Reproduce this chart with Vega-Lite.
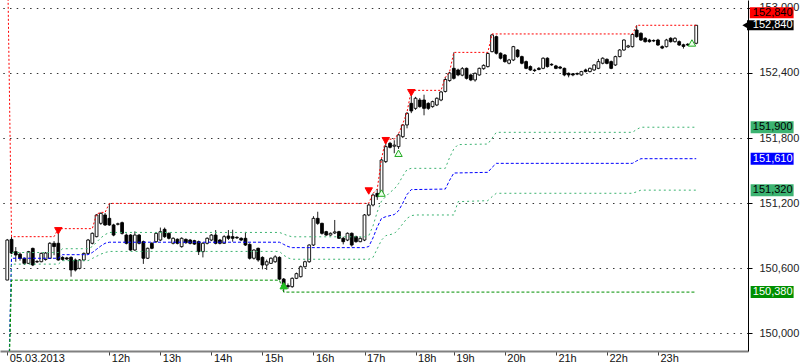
{
"$schema": "https://vega.github.io/schema/vega-lite/v6.json",
"width": 748, "height": 351,
"autosize": {"type": "none"},
"padding": {"left": 0, "top": 0, "right": 52, "bottom": 13},
"background": "white",
"config": {"view": {"stroke": null}, "font": "Liberation Sans"},
"datasets": {
"candles": [
{"i":0,"o":150491,"h":150870,"l":150490,"c":150860},
{"i":1,"o":150866,"h":150890,"l":150730,"c":150740},
{"i":2,"o":150753,"h":150795,"l":150660,"c":150722},
{"i":3,"o":150730,"h":150745,"l":150670,"c":150690},
{"i":4,"o":150691,"h":150700,"l":150630,"c":150645},
{"i":5,"o":150645,"h":150760,"l":150640,"c":150753},
{"i":6,"o":150783,"h":150790,"l":150620,"c":150630},
{"i":7,"o":150658,"h":150675,"l":150650,"c":150662},
{"i":8,"o":150660,"h":150745,"l":150655,"c":150737},
{"i":9,"o":150680,"h":150750,"l":150670,"c":150740},
{"i":10,"o":150691,"h":150840,"l":150685,"c":150830},
{"i":11,"o":150830,"h":150850,"l":150720,"c":150800},
{"i":12,"o":150830,"h":150965,"l":150670,"c":150676},
{"i":13,"o":150700,"h":150710,"l":150670,"c":150682},
{"i":14,"o":150695,"h":150705,"l":150675,"c":150685},
{"i":15,"o":150700,"h":150710,"l":150522,"c":150584},
{"i":16,"o":150676,"h":150690,"l":150570,"c":150584},
{"i":17,"o":150599,"h":150685,"l":150590,"c":150676},
{"i":18,"o":150676,"h":150745,"l":150665,"c":150737},
{"i":19,"o":150737,"h":150870,"l":150730,"c":150860},
{"i":20,"o":150830,"h":150930,"l":150820,"c":150922},
{"i":21,"o":150891,"h":151100,"l":150885,"c":151091},
{"i":22,"o":151014,"h":151115,"l":151000,"c":151106},
{"i":23,"o":151091,"h":151110,"l":150990,"c":150999},
{"i":24,"o":151060,"h":151198,"l":150990,"c":150999},
{"i":25,"o":150999,"h":151010,"l":150895,"c":150906},
{"i":26,"o":151005,"h":151020,"l":150995,"c":151010},
{"i":27,"o":151020,"h":151030,"l":150910,"c":150922},
{"i":28,"o":150906,"h":150920,"l":150820,"c":150830},
{"i":29,"o":150906,"h":150915,"l":150760,"c":150768},
{"i":30,"o":150768,"h":150940,"l":150760,"c":150906},
{"i":31,"o":150906,"h":150915,"l":150820,"c":150830},
{"i":32,"o":150845,"h":150855,"l":150640,"c":150692},
{"i":33,"o":150692,"h":150790,"l":150685,"c":150784},
{"i":34,"o":150830,"h":150840,"l":150775,"c":150784},
{"i":35,"o":150845,"h":150930,"l":150835,"c":150922},
{"i":36,"o":150860,"h":150975,"l":150850,"c":150937},
{"i":37,"o":150959,"h":150975,"l":150880,"c":150891},
{"i":38,"o":150922,"h":150930,"l":150865,"c":150876},
{"i":39,"o":150830,"h":150885,"l":150820,"c":150876},
{"i":40,"o":150867,"h":150875,"l":150820,"c":150830},
{"i":41,"o":150799,"h":150885,"l":150790,"c":150876},
{"i":42,"o":150866,"h":150875,"l":150825,"c":150836},
{"i":43,"o":150860,"h":150870,"l":150820,"c":150830},
{"i":44,"o":150854,"h":150862,"l":150815,"c":150823},
{"i":45,"o":150845,"h":150855,"l":150722,"c":150753},
{"i":46,"o":150753,"h":150840,"l":150700,"c":150830},
{"i":47,"o":150830,"h":150885,"l":150820,"c":150876},
{"i":48,"o":150860,"h":150915,"l":150850,"c":150906},
{"i":49,"o":150906,"h":150952,"l":150820,"c":150830},
{"i":50,"o":150860,"h":150870,"l":150820,"c":150830},
{"i":51,"o":150830,"h":150905,"l":150825,"c":150891},
{"i":52,"o":150897,"h":150952,"l":150860,"c":150876},
{"i":53,"o":150891,"h":150955,"l":150845,"c":150876},
{"i":54,"o":150885,"h":150895,"l":150870,"c":150880},
{"i":55,"o":150876,"h":150885,"l":150850,"c":150860},
{"i":56,"o":150876,"h":150935,"l":150805,"c":150814},
{"i":57,"o":150820,"h":150830,"l":150680,"c":150692},
{"i":58,"o":150692,"h":150775,"l":150680,"c":150768},
{"i":59,"o":150784,"h":150790,"l":150660,"c":150676},
{"i":60,"o":150700,"h":150710,"l":150590,"c":150630},
{"i":61,"o":150630,"h":150680,"l":150584,"c":150660},
{"i":62,"o":150645,"h":150700,"l":150640,"c":150692},
{"i":63,"o":150660,"h":150720,"l":150650,"c":150705},
{"i":64,"o":150700,"h":150710,"l":150491,"c":150500},
{"i":65,"o":150500,"h":150510,"l":150380,"c":150440},
{"i":66,"o":150440,"h":150460,"l":150410,"c":150430},
{"i":67,"o":150430,"h":150515,"l":150420,"c":150507},
{"i":68,"o":150507,"h":150560,"l":150500,"c":150550},
{"i":69,"o":150522,"h":150625,"l":150515,"c":150614},
{"i":70,"o":150614,"h":150670,"l":150605,"c":150660},
{"i":71,"o":150660,"h":150820,"l":150650,"c":150814},
{"i":72,"o":150814,"h":151080,"l":150805,"c":151060},
{"i":73,"o":151060,"h":151121,"l":151000,"c":151014},
{"i":74,"o":151014,"h":151020,"l":150910,"c":150922},
{"i":75,"o":150937,"h":150945,"l":150900,"c":150906},
{"i":76,"o":150906,"h":150930,"l":150900,"c":150922},
{"i":77,"o":150925,"h":151045,"l":150915,"c":150935},
{"i":78,"o":150937,"h":150945,"l":150870,"c":150876},
{"i":79,"o":150876,"h":150890,"l":150820,"c":150845},
{"i":80,"o":150860,"h":150930,"l":150850,"c":150922},
{"i":81,"o":150922,"h":150930,"l":150800,"c":150814},
{"i":82,"o":150891,"h":150900,"l":150835,"c":150845},
{"i":83,"o":150845,"h":150885,"l":150840,"c":150876},
{"i":84,"o":150860,"h":151100,"l":150850,"c":151091},
{"i":85,"o":151091,"h":151200,"l":151080,"c":151183},
{"i":86,"o":151183,"h":151290,"l":151170,"c":151275},
{"i":87,"o":151290,"h":151330,"l":151230,"c":151260},
{"i":88,"o":151291,"h":151610,"l":151280,"c":151598},
{"i":89,"o":151583,"h":151790,"l":151570,"c":151721},
{"i":90,"o":151752,"h":151765,"l":151705,"c":151715},
{"i":91,"o":151725,"h":151780,"l":151660,"c":151735},
{"i":92,"o":151721,"h":151840,"l":151700,"c":151829},
{"i":93,"o":151813,"h":151930,"l":151800,"c":151921},
{"i":94,"o":151921,"h":152040,"l":151890,"c":152028},
{"i":95,"o":152120,"h":152240,"l":152030,"c":152050},
{"i":96,"o":152074,"h":152180,"l":152060,"c":152167},
{"i":97,"o":152151,"h":152170,"l":152080,"c":152090},
{"i":98,"o":152151,"h":152200,"l":152010,"c":152074},
{"i":99,"o":152120,"h":152130,"l":152060,"c":152074},
{"i":100,"o":152090,"h":152145,"l":152080,"c":152136},
{"i":101,"o":152105,"h":152175,"l":152095,"c":152167},
{"i":102,"o":152151,"h":152235,"l":152140,"c":152225},
{"i":103,"o":152230,"h":152360,"l":152220,"c":152340},
{"i":104,"o":152330,"h":152410,"l":152320,"c":152400},
{"i":105,"o":152443,"h":152590,"l":152340,"c":152351},
{"i":106,"o":152428,"h":152440,"l":152370,"c":152382},
{"i":107,"o":152380,"h":152455,"l":152370,"c":152440},
{"i":108,"o":152443,"h":152450,"l":152340,"c":152351},
{"i":109,"o":152382,"h":152395,"l":152325,"c":152336},
{"i":110,"o":152336,"h":152405,"l":152320,"c":152397},
{"i":111,"o":152382,"h":152450,"l":152375,"c":152443},
{"i":112,"o":152440,"h":152480,"l":152430,"c":152470},
{"i":113,"o":152459,"h":152590,"l":152450,"c":152580},
{"i":114,"o":152597,"h":152760,"l":152590,"c":152751},
{"i":115,"o":152735,"h":152745,"l":152570,"c":152582},
{"i":116,"o":152582,"h":152590,"l":152525,"c":152536},
{"i":117,"o":152566,"h":152575,"l":152495,"c":152505},
{"i":118,"o":152490,"h":152530,"l":152480,"c":152520},
{"i":119,"o":152520,"h":152650,"l":152510,"c":152643},
{"i":120,"o":152612,"h":152620,"l":152540,"c":152551},
{"i":121,"o":152551,"h":152560,"l":152480,"c":152490},
{"i":122,"o":152505,"h":152515,"l":152435,"c":152443},
{"i":123,"o":152459,"h":152470,"l":152420,"c":152428},
{"i":124,"o":152427,"h":152440,"l":152410,"c":152422},
{"i":125,"o":152443,"h":152455,"l":152425,"c":152433},
{"i":126,"o":152443,"h":152545,"l":152435,"c":152536},
{"i":127,"o":152536,"h":152545,"l":152450,"c":152459},
{"i":128,"o":152480,"h":152490,"l":152465,"c":152475},
{"i":129,"o":152465,"h":152475,"l":152435,"c":152443},
{"i":130,"o":152455,"h":152465,"l":152435,"c":152445},
{"i":131,"o":152443,"h":152450,"l":152370,"c":152382},
{"i":132,"o":152397,"h":152405,"l":152360,"c":152382},
{"i":133,"o":152392,"h":152400,"l":152370,"c":152382},
{"i":134,"o":152395,"h":152405,"l":152380,"c":152390},
{"i":135,"o":152382,"h":152420,"l":152375,"c":152413},
{"i":136,"o":152428,"h":152440,"l":152405,"c":152413},
{"i":137,"o":152413,"h":152450,"l":152405,"c":152443},
{"i":138,"o":152428,"h":152480,"l":152420,"c":152474},
{"i":139,"o":152443,"h":152530,"l":152435,"c":152505},
{"i":140,"o":152490,"h":152545,"l":152480,"c":152536},
{"i":141,"o":152526,"h":152535,"l":152480,"c":152489},
{"i":142,"o":152505,"h":152515,"l":152435,"c":152443},
{"i":143,"o":152474,"h":152560,"l":152465,"c":152551},
{"i":144,"o":152551,"h":152620,"l":152545,"c":152612},
{"i":145,"o":152612,"h":152710,"l":152605,"c":152704},
{"i":146,"o":152640,"h":152660,"l":152630,"c":152650},
{"i":147,"o":152643,"h":152760,"l":152635,"c":152755},
{"i":148,"o":152796,"h":152840,"l":152725,"c":152735},
{"i":149,"o":152766,"h":152775,"l":152695,"c":152704},
{"i":150,"o":152720,"h":152730,"l":152680,"c":152689},
{"i":151,"o":152704,"h":152715,"l":152680,"c":152689},
{"i":152,"o":152700,"h":152710,"l":152685,"c":152695},
{"i":153,"o":152704,"h":152715,"l":152650,"c":152658},
{"i":154,"o":152643,"h":152655,"l":152620,"c":152630},
{"i":155,"o":152643,"h":152715,"l":152635,"c":152704},
{"i":156,"o":152720,"h":152730,"l":152680,"c":152689},
{"i":157,"o":152689,"h":152730,"l":152680,"c":152720},
{"i":158,"o":152689,"h":152700,"l":152650,"c":152658},
{"i":159,"o":152660,"h":152670,"l":152625,"c":152645},
{"i":160,"o":152665,"h":152675,"l":152650,"c":152658},
{"i":161,"o":152670,"h":152685,"l":152650,"c":152660},
{"i":162,"o":152674,"h":152840,"l":152665,"c":152840}
],
"lines": [
{"s":"high","i":0,"v":153600},{"s":"high","i":1,"v":150891},{"s":"high","i":11,"v":150891},{"s":"high","i":12,"v":150965},{"s":"high","i":20,"v":150965},{"s":"high","i":21,"v":151100},{"s":"high","i":22,"v":151115},{"s":"high","i":23,"v":151115},{"s":"high","i":24,"v":151198},{"s":"high","i":84,"v":151198},{"s":"high","i":85,"v":151200},{"s":"high","i":86,"v":151290},{"s":"high","i":87,"v":151330},{"s":"high","i":88,"v":151610},{"s":"high","i":89,"v":151790},{"s":"high","i":91,"v":151790},{"s":"high","i":92,"v":151840},{"s":"high","i":93,"v":151930},{"s":"high","i":94,"v":152040},{"s":"high","i":95,"v":152240},{"s":"high","i":102,"v":152240},{"s":"high","i":103,"v":152360},{"s":"high","i":104,"v":152410},{"s":"high","i":105,"v":152590},{"s":"high","i":113,"v":152590},{"s":"high","i":114,"v":152760},{"s":"high","i":147,"v":152760},{"s":"high","i":148,"v":152840},{"s":"high","i":162,"v":152840},
{"s":"upper","i":0,"v":149000},{"s":"upper","i":1,"v":150745},{"s":"upper","i":12,"v":150745},{"s":"upper","i":13,"v":150780},{"s":"upper","i":19,"v":150780},{"s":"upper","i":20,"v":150800},{"s":"upper","i":21,"v":150840},{"s":"upper","i":22,"v":150880},{"s":"upper","i":23,"v":150910},{"s":"upper","i":24,"v":150930},{"s":"upper","i":64,"v":150930},{"s":"upper","i":65,"v":150915},{"s":"upper","i":66,"v":150900},{"s":"upper","i":67,"v":150890},{"s":"upper","i":84,"v":150890},{"s":"upper","i":85,"v":150900},{"s":"upper","i":86,"v":150990},{"s":"upper","i":87,"v":151120},{"s":"upper","i":88,"v":151220},{"s":"upper","i":89,"v":151260},{"s":"upper","i":90,"v":151300},{"s":"upper","i":91,"v":151330},{"s":"upper","i":92,"v":151380},{"s":"upper","i":93,"v":151450},{"s":"upper","i":94,"v":151510},{"s":"upper","i":95,"v":151521},{"s":"upper","i":103,"v":151521},{"s":"upper","i":104,"v":151620},{"s":"upper","i":105,"v":151700},{"s":"upper","i":106,"v":151740},{"s":"upper","i":113,"v":151745},{"s":"upper","i":114,"v":151800},{"s":"upper","i":115,"v":151853},{"s":"upper","i":147,"v":151853},{"s":"upper","i":148,"v":151880},{"s":"upper","i":149,"v":151900},{"s":"upper","i":162,"v":151900},
{"s":"mid","i":0,"v":149000},{"s":"mid","i":1,"v":150692},{"s":"mid","i":12,"v":150692},{"s":"mid","i":13,"v":150725},{"s":"mid","i":19,"v":150725},{"s":"mid","i":20,"v":150745},{"s":"mid","i":21,"v":150775},{"s":"mid","i":22,"v":150805},{"s":"mid","i":23,"v":150830},{"s":"mid","i":24,"v":150840},{"s":"mid","i":64,"v":150840},{"s":"mid","i":65,"v":150820},{"s":"mid","i":66,"v":150800},{"s":"mid","i":67,"v":150790},{"s":"mid","i":84,"v":150790},{"s":"mid","i":85,"v":150800},{"s":"mid","i":86,"v":150880},{"s":"mid","i":87,"v":150980},{"s":"mid","i":88,"v":151060},{"s":"mid","i":89,"v":151075},{"s":"mid","i":90,"v":151085},{"s":"mid","i":91,"v":151095},{"s":"mid","i":92,"v":151130},{"s":"mid","i":93,"v":151200},{"s":"mid","i":94,"v":151280},{"s":"mid","i":95,"v":151325},{"s":"mid","i":103,"v":151330},{"s":"mid","i":104,"v":151410},{"s":"mid","i":105,"v":151478},{"s":"mid","i":113,"v":151484},{"s":"mid","i":114,"v":151530},{"s":"mid","i":115,"v":151567},{"s":"mid","i":147,"v":151567},{"s":"mid","i":148,"v":151590},{"s":"mid","i":149,"v":151610},{"s":"mid","i":162,"v":151610},
{"s":"lower","i":0,"v":149000},{"s":"lower","i":1,"v":150638},{"s":"lower","i":12,"v":150638},{"s":"lower","i":13,"v":150670},{"s":"lower","i":19,"v":150670},{"s":"lower","i":20,"v":150690},{"s":"lower","i":21,"v":150710},{"s":"lower","i":22,"v":150730},{"s":"lower","i":23,"v":150745},{"s":"lower","i":24,"v":150755},{"s":"lower","i":64,"v":150755},{"s":"lower","i":65,"v":150720},{"s":"lower","i":66,"v":150695},{"s":"lower","i":67,"v":150683},{"s":"lower","i":85,"v":150683},{"s":"lower","i":86,"v":150700},{"s":"lower","i":87,"v":150780},{"s":"lower","i":88,"v":150860},{"s":"lower","i":89,"v":150900},{"s":"lower","i":90,"v":150910},{"s":"lower","i":91,"v":150920},{"s":"lower","i":92,"v":150960},{"s":"lower","i":93,"v":151010},{"s":"lower","i":94,"v":151060},{"s":"lower","i":95,"v":151085},{"s":"lower","i":96,"v":151091},{"s":"lower","i":105,"v":151091},{"s":"lower","i":106,"v":151214},{"s":"lower","i":113,"v":151223},{"s":"lower","i":114,"v":151260},{"s":"lower","i":115,"v":151291},{"s":"lower","i":147,"v":151291},{"s":"lower","i":148,"v":151305},{"s":"lower","i":149,"v":151320},{"s":"lower","i":162,"v":151320},
{"s":"low","i":0,"v":149000},{"s":"low","i":1,"v":150490},{"s":"low","i":64,"v":150490},{"s":"low","i":65,"v":150380},{"s":"low","i":162,"v":150380}
],
"signals": [
{"i":12,"v":150945,"t":"sell"},{"i":85,"v":151312,"t":"sell"},{"i":89,"v":151776,"t":"sell"},{"i":95,"v":152218,"t":"sell"},
{"i":65,"v":150439,"t":"low"},
{"i":88,"v":151293,"t":"buy"},{"i":92,"v":151660,"t":"buy"},{"i":161,"v":152677,"t":"buy"}
],
"tags": [
{"s":"high","v":152840},{"s":"close","v":152840},{"s":"upper","v":151900},{"s":"mid","v":151610},{"s":"lower","v":151320},{"s":"low","v":150380}
]
},
"resolve": {"axis": {"x": "shared", "y": "shared"}},
"layer": [
{"data": {"name": "candles"},
 "mark": {"type": "rule", "color": "#222222", "strokeWidth": 1},
 "encoding": {
  "x": {"field": "i", "type": "quantitative", "title": null, "scale": {"domain": [-0.534, 173], "nice": false, "zero": false},
   "axis": {"orient": "bottom", "values": [0,24,36,48,60,72,84,96,105,117,129,141,153],
    "labelExpr": "datum.value == 0 ? '05.03.2013' : datum.value == 24 ? '12h' : datum.value == 36 ? '13h' : datum.value == 48 ? '14h' : datum.value == 60 ? '15h' : datum.value == 72 ? '16h' : datum.value == 84 ? '17h' : datum.value == 96 ? '18h' : datum.value == 105 ? '19h' : datum.value == 117 ? '20h' : datum.value == 129 ? '21h' : datum.value == 141 ? '22h' : '23h'",
    "title": null, "grid": false, "domainColor": "#808080", "domainWidth": 2, "tickColor": "#444444", "tickSize": 4,
    "labelAlign": "left", "labelBaseline": "top", "labelPadding": -3, "labelOffset": 2, "labelFontSize": 11,
    "labelColor": "#111111", "labelFlush": false, "labelOverlap": false, "labelFont": "Liberation Sans"}},
  "y": {"field": "l", "type": "quantitative", "title": null, "scale": {"domain": [149837, 153073], "nice": false, "zero": false},
   "axis": {"orient": "right", "values": [150000,150600,151200,151800,152400,153000], "format": ",d", "title": null,
    "grid": true, "gridColor": "#333333", "gridDash": [1.5, 5.2], "gridWidth": 1, "domainColor": "#000000", "domainWidth": 1,
    "tickColor": "#000000", "tickSize": 4, "labelFontSize": 11, "labelColor": "#222222", "labelPadding": 7, "labelFont": "Liberation Sans"}},
  "y2": {"field": "h"}
 }},
{"data": {"name": "candles"},
 "mark": {"type": "bar", "width": 2.8, "stroke": "#000000", "strokeWidth": 0.9},
 "encoding": {
  "x": {"field": "i", "type": "quantitative", "title": null, "scale": {"domain": [-0.534, 173], "nice": false, "zero": false}},
  "y": {"field": "o", "type": "quantitative", "title": null, "scale": {"domain": [149837, 153073], "nice": false, "zero": false}},
  "y2": {"field": "c"},
  "fill": {"condition": {"test": "datum.c >= datum.o", "value": "#ffffff"}, "value": "#000000"}
 }},
{"data": {"name": "lines"},
 "mark": {"type": "line", "clip": true, "strokeWidth": 1},
 "encoding": {
  "x": {"field": "i", "type": "quantitative", "title": null, "scale": {"domain": [-0.534, 173], "nice": false, "zero": false}},
  "y": {"field": "v", "type": "quantitative", "title": null, "scale": {"domain": [149837, 153073], "nice": false, "zero": false}},
  "color": {"field": "s", "type": "nominal", "scale": {"domain": ["high","upper","mid","lower","low","close"], "range": ["#ff0000","#3cb371","#0000ff","#3cb371","#009000","#000000"]}, "legend": null},
  "strokeDash": {"field": "s", "type": "nominal", "scale": {"domain": ["high","upper","mid","lower","low"], "range": [[2,2],[2,3],[3,2],[2,3],[3,2]]}, "legend": null}
 }},
{"data": {"name": "signals"},
 "mark": {"type": "point", "filled": true, "size": 55, "strokeWidth": 1, "opacity": 1},
 "encoding": {
  "x": {"field": "i", "type": "quantitative", "title": null, "scale": {"domain": [-0.534, 173], "nice": false, "zero": false}},
  "y": {"field": "v", "type": "quantitative", "title": null, "scale": {"domain": [149837, 153073], "nice": false, "zero": false}},
  "shape": {"field": "t", "type": "nominal", "scale": {"domain": ["sell","low","buy"], "range": ["triangle-down","triangle-up","triangle-up"]}, "legend": null},
  "fill": {"field": "t", "type": "nominal", "scale": {"domain": ["sell","low","buy"], "range": ["#ff0000","#22c022","#eaffea"]}, "legend": null},
  "stroke": {"field": "t", "type": "nominal", "scale": {"domain": ["sell","low","buy"], "range": ["#ff0000","#22c022","#22aa22"]}, "legend": null}
 }},
{"data": {"name": "tags"},
 "transform": [{"filter": "datum.s !== 'high' && datum.s !== 'close'"}],
 "mark": {"type": "rect", "yOffset": -6, "y2Offset": 6},
 "encoding": {
  "x": {"datum": 174.8, "type": "quantitative", "title": null, "scale": {"domain": [-0.534, 173], "nice": false, "zero": false}},
  "x2": {"datum": 184.9},
  "y": {"field": "v", "type": "quantitative", "title": null, "scale": {"domain": [149837, 153073], "nice": false, "zero": false}},
  "y2": {"field": "v"},
  "color": {"field": "s", "type": "nominal", "scale": {"domain": ["high","upper","mid","lower","low","close"], "range": ["#ff0000","#3cb371","#0000ff","#3cb371","#009000","#000000"]}, "legend": null}
 }},
{"data": {"name": "tags"},
 "transform": [{"filter": "datum.s === 'high'"}],
 "mark": {"type": "rect", "yOffset": -18, "y2Offset": -7},
 "encoding": {
  "x": {"datum": 174.6, "type": "quantitative", "title": null, "scale": {"domain": [-0.534, 173], "nice": false, "zero": false}},
  "x2": {"datum": 184.9},
  "y": {"field": "v", "type": "quantitative", "title": null, "scale": {"domain": [149837, 153073], "nice": false, "zero": false}},
  "y2": {"field": "v"},
  "color": {"field": "s", "type": "nominal", "scale": {"domain": ["high","upper","mid","lower","low","close"], "range": ["#ff0000","#3cb371","#0000ff","#3cb371","#009000","#000000"]}, "legend": null}
 }},
{"data": {"name": "tags"},
 "transform": [{"filter": "datum.s === 'close'"}],
 "mark": {"type": "rect", "yOffset": -5, "y2Offset": 5, "color": "#000000"},
 "encoding": {
  "x": {"datum": 173.95, "type": "quantitative", "title": null, "scale": {"domain": [-0.534, 173], "nice": false, "zero": false}},
  "x2": {"datum": 184.9},
  "y": {"field": "v", "type": "quantitative", "title": null, "scale": {"domain": [149837, 153073], "nice": false, "zero": false}},
  "y2": {"field": "v"}
 }},
{"data": {"name": "tags"},
 "transform": [{"filter": "datum.s === 'close'"}],
 "mark": {"type": "point", "shape": "triangle-left", "filled": true, "size": 40, "color": "#000000", "opacity": 1},
 "encoding": {
  "x": {"datum": 173.5, "type": "quantitative", "title": null, "scale": {"domain": [-0.534, 173], "nice": false, "zero": false}},
  "y": {"field": "v", "type": "quantitative", "title": null, "scale": {"domain": [149837, 153073], "nice": false, "zero": false}}
 }},
{"data": {"name": "tags"},
 "transform": [{"filter": "datum.s !== 'high'"}],
 "mark": {"type": "text", "align": "left", "baseline": "middle", "fontSize": 11, "font": "Liberation Sans"},
 "encoding": {
  "x": {"datum": 175.3, "type": "quantitative", "title": null, "scale": {"domain": [-0.534, 173], "nice": false, "zero": false}},
  "y": {"field": "v", "type": "quantitative", "title": null, "scale": {"domain": [149837, 153073], "nice": false, "zero": false}},
  "text": {"field": "v", "type": "quantitative", "format": ",d"},
  "color": {"condition": {"test": "datum.s === 'upper' || datum.s === 'lower'", "value": "#000000"}, "value": "#ffffff"}
 }},
{"data": {"name": "tags"},
 "transform": [{"filter": "datum.s === 'high'"}],
 "mark": {"type": "text", "align": "left", "baseline": "middle", "fontSize": 11, "font": "Liberation Sans", "yOffset": -12.5, "color": "#000000"},
 "encoding": {
  "x": {"datum": 175.3, "type": "quantitative", "title": null, "scale": {"domain": [-0.534, 173], "nice": false, "zero": false}},
  "y": {"field": "v", "type": "quantitative", "title": null, "scale": {"domain": [149837, 153073], "nice": false, "zero": false}},
  "text": {"field": "v", "type": "quantitative", "format": ",d"}
 }}
]
}
